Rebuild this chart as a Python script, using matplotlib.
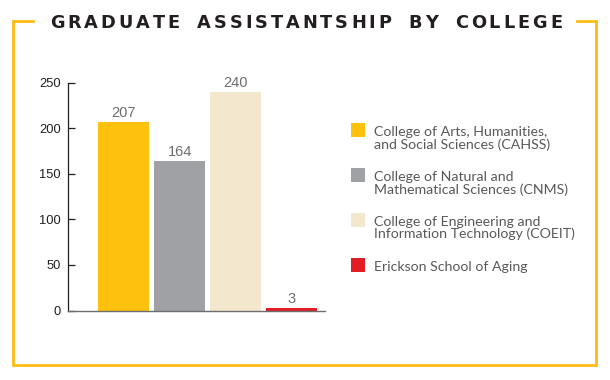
import numpy as np
import matplotlib
matplotlib.use("Agg")
import matplotlib.pyplot as plt
from matplotlib.patches import Rectangle
from matplotlib.lines import Line2D

title = "GRADUATE ASSISTANTSHIP BY COLLEGE"
colleges = ["College of Arts, Humanities,\nand Social Sciences (CAHSS)",
            "College of Natural and\nMathematical Sciences (CNMS)",
            "College of Engineering and\nInformation Technology (COEIT)",
            "Erickson School of Aging"]
counts = [207, 164, 240, 3]
colors = ["#FEC20E", "#A0A1A4", "#F3E7CD", "#E31D25"]
yticks = [0, 50, 100, 150, 200, 250]

W, H = 610, 380
gold = "#FDBB14"

fig = plt.figure(figsize=(W / 100, H / 100), dpi=100)

# bars
ax = fig.add_axes([68 / W, 1 - 310.5 / H, (325 - 68) / W, (310.5 - 82.7) / H])
x = np.arange(len(counts))
bars = ax.bar(x, counts, width=0.905, color=colors, linewidth=0)
ax.set_xlim(-0.995, 3.6)
ax.set_ylim(0, 250)
ax.set_yticks(yticks)
ax.set_xticks([])
for s in ["top", "right"]:
    ax.spines[s].set_visible(False)
ax.spines["left"].set_color("#231F20")
ax.spines["left"].set_linewidth(0.9)
ax.spines["bottom"].set_color("#6D6E71")
ax.spines["bottom"].set_linewidth(1.0)
ax.tick_params(axis="y", direction="in", length=5, width=0.9, color="#231F20",
               pad=5, labelsize=9.3, labelcolor="#231F20")
for lab in ax.get_yticklabels():
    lab.set_family("Liberation Sans")
for xi, v in zip(x, counts):
    ax.annotate(str(v), (xi, v), xytext=(0, 3.4), textcoords="offset points",
                ha="center", va="baseline", fontsize=10.5, color="#6D6E71",
                family="Liberation Sans")

# legend drawn by hand so the square sits on the first line
for i, (lab, c) in enumerate(zip(colleges, colors)):
    top = 123 + i * 45
    fig.patches.append(Rectangle((351 / W, 1 - (top + 14) / H), 14 / W, 14 / H,
                                 transform=fig.transFigure, facecolor=c,
                                 edgecolor="none"))
    for j, line in enumerate(lab.split("\n")):
        fig.text(374 / W, 1 - (top + 13 + j * 12.5) / H, line, ha="left",
                 va="baseline", fontsize=10.2, color="#58595B", family="Lato")

# frame
fw = 2.0
fig.lines.append(Line2D([33 / W, 13 / W, 13 / W, 596 / W, 596 / W, 577 / W],
                        [1 - 21 / H, 1 - 21 / H, 1 - 365 / H, 1 - 365 / H,
                         1 - 21 / H, 1 - 21 / H],
                        transform=fig.transFigure, color=gold, linewidth=fw,
                        solid_joinstyle="miter"))

# title with wide letter spacing, fitted between x=50 and x=562
r = fig.canvas.get_renderer()
words = title.split(" ")
word_gap = 17
letters = []
for wi, word in enumerate(words):
    for ch in word:
        t = fig.text(0, 1 - 28.5 / H, ch, fontsize=12.8, fontweight="bold",
                     family="DejaVu Sans", color="#231F20", ha="left",
                     va="baseline")
        letters.append((wi, t, t.get_window_extent(r).width))
n_letters = len(letters)
sum_w = sum(w for _, _, w in letters)
track = (512 - sum_w - word_gap * (len(words) - 1)) / (n_letters - len(words))
cx = 50
prev = None
for wi, t, w in letters:
    if prev is not None:
        cx += word_gap if wi != prev else track
    t.set_x(cx / W)
    cx += w
    prev = wi

fig.savefig("out.png", dpi=100)
